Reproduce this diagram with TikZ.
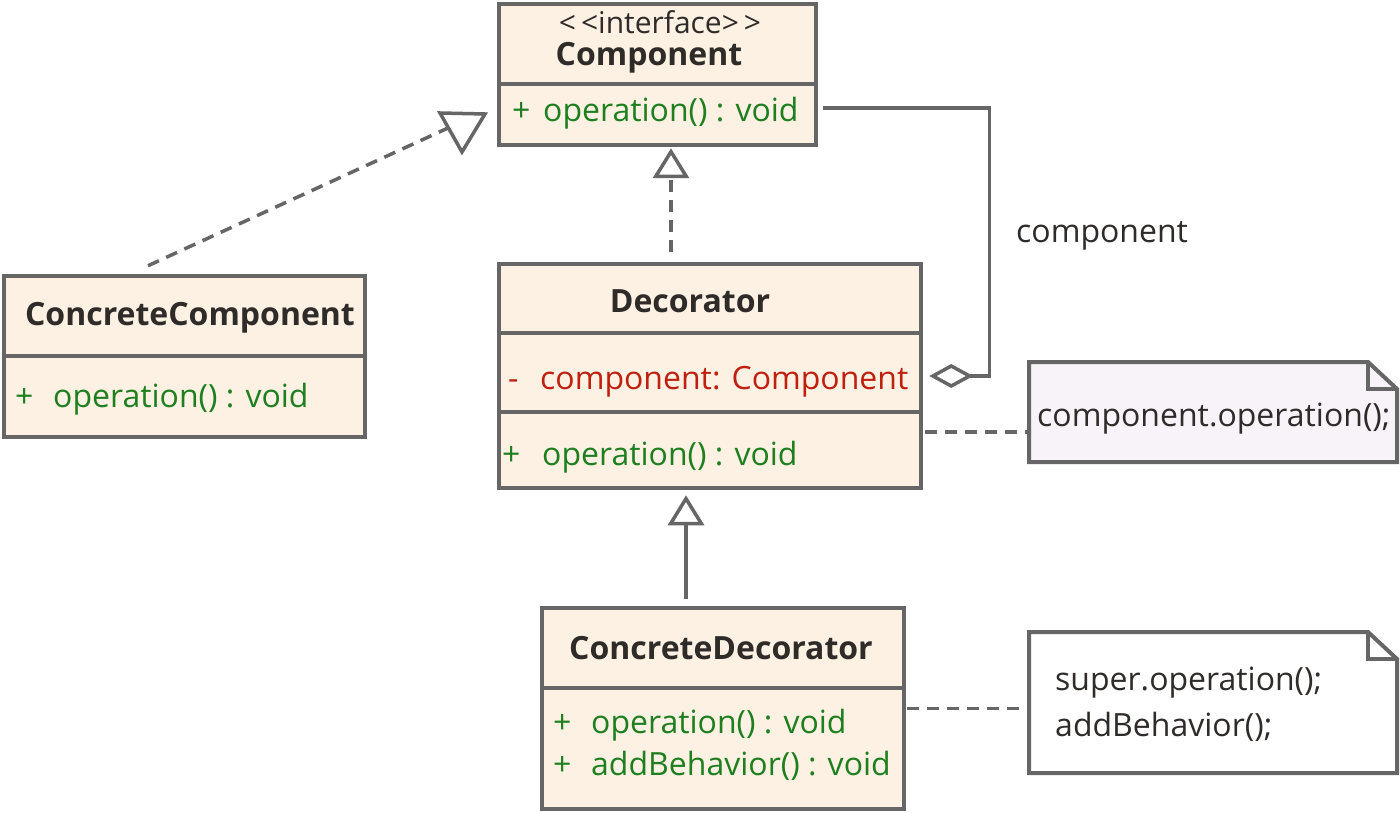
\documentclass[tikz,border=0pt]{standalone}
\usepackage{fontspec}
\setmainfont{Open Sans}
\usetikzlibrary{arrows.meta,calc}
\definecolor{bord}{HTML}{666666}
\definecolor{boxfill}{HTML}{FCF1E3}
\definecolor{notefill}{HTML}{F7F3F8}
\definecolor{grn}{HTML}{1F7F1F}
\definecolor{rd}{HTML}{C0200F}
\definecolor{txt}{HTML}{2F2B29}
\newcommand\regf{\fontsize{32}{38}\selectfont}
\newcommand\boldf{\fontsize{32}{38}\selectfont\bfseries}
\tikzset{
  umlbox/.style={draw=bord, line width=4.5pt, fill=boxfill, inner sep=0pt},
  divider/.style={draw=bord, line width=4.5pt},
  notebox/.style={inner sep=0pt, outer sep=0pt},
  noteline/.style={draw=bord, line width=4pt, line join=miter},
  conn/.style={draw=bord, line width=3.5pt},
  dconn/.style={conn, dash pattern=on 12pt off 8pt},
  realtip/.style={-{Triangle[open,length=30pt,width=36pt,line width=3.5pt]}},
  aggtip/.style={-{Diamond[open,length=44pt,width=24pt,line width=3.5pt]}},
  title/.style={anchor=base, font=\boldf, text=txt, inner sep=0pt},
  member/.style={anchor=base west, font=\regf, inner sep=0pt},
  plain/.style={anchor=base west, font=\regf, text=txt, inner sep=0pt}
}
\begin{document}
\begin{tikzpicture}[x=1pt,y=-1pt]
\useasboundingbox (0,0) rectangle (1400,813);

% ---------- class boxes ----------
\node[umlbox, minimum width=317pt, minimum height=141pt] (comp) at (657.5,74.5) {};
\draw[divider] (comp.west |- 0,84) -- (comp.east |- 0,84);
\node[anchor=base, font=\fontsize{30}{36}\selectfont, text=txt, inner sep=0pt] (compst) at (660,34) {<\,<interface>\,>};
\node[title] (comptl) at (649,66) {Component};
\node[member, text=grn] (compp) at (512,122) {+};
\node[member, text=grn] (compop) at (543,122) {operation() : void};

\node[umlbox, minimum width=361pt, minimum height=161pt] (cc) at (184.5,356.5) {};
\draw[divider] (cc.west |- 0,356) -- (cc.east |- 0,356);
\node[title] (cctl) at (190,325) {ConcreteComponent};
\node[member, text=grn] (ccp) at (15,407) {+};
\node[member, text=grn] (ccop) at (53,407) {operation() : void};

\node[umlbox, minimum width=422pt, minimum height=224pt] (dec) at (710,376) {};
\draw[divider] (dec.west |- 0,333) -- (dec.east |- 0,333);
\draw[divider] (dec.west |- 0,412) -- (dec.east |- 0,412);
\node[title] (dectl) at (690,312) {Decorator};
\node[member, text=rd] (decm) at (508,389) {-};
\node[member, text=rd] (decat) at (540,389) {component: Component};
\node[member, text=grn] (decp) at (502,465) {+};
\node[member, text=grn] (decop) at (542,465) {operation() : void};

\node[umlbox, minimum width=362pt, minimum height=201pt] (cd) at (723,708.5) {};
\draw[divider] (cd.west |- 0,688) -- (cd.east |- 0,688);
\node[title] (cdtl) at (721,659) {ConcreteDecorator};
\node[member, text=grn] (cdp1) at (553,733) {+};
\node[member, text=grn] (cdop1) at (591,733) {operation() : void};
\node[member, text=grn] (cdp2) at (553,775) {+};
\node[member, text=grn] (cdop2) at (591,775) {addBehavior() : void};

% ---------- notes ----------
\node[notebox, minimum width=368pt, minimum height=100pt] (n1) at (1213,412) {};
\draw[noteline, fill=notefill] (n1.north west) -- ([xshift=-29pt]n1.north east) -- ([shift={(0,27)}]n1.north east) -- (n1.south east) -- (n1.south west) -- cycle;
\draw[noteline] ([xshift=-29pt]n1.north east) -- ([shift={(-29,27)}]n1.north east) -- ([shift={(0,27)}]n1.north east);
\node[plain] (n1t) at (1037,426) {component.operation();};

\node[notebox, minimum width=368pt, minimum height=141pt] (n2) at (1213,702.5) {};
\draw[noteline, fill=white] (n2.north west) -- ([xshift=-29pt]n2.north east) -- ([shift={(0,27)}]n2.north east) -- (n2.south east) -- (n2.south west) -- cycle;
\draw[noteline] ([xshift=-29pt]n2.north east) -- ([shift={(-29,27)}]n2.north east) -- ([shift={(0,27)}]n2.north east);
\node[plain] (n2t1) at (1055,690) {super.operation();};
\node[plain] (n2t2) at (1055,736) {addBehavior();};

% ---------- connectors ----------
% ConcreteComponent realizes Component (dashed, downward open triangle)
\coordinate (tri) at (448,128);
\draw[dconn] ([shift={(-36.5,-8)}]cc.north) -- (tri);
\draw[conn, line join=miter] (440,113) -- (485,114) -- (462,152) -- cycle;

% Decorator realizes Component
\draw[dconn, realtip] ([shift={(-39,-10)}]dec.north) -- ([shift={(13.5,1)}]comp.south);

% ConcreteDecorator extends Decorator
\draw[conn, realtip] ([shift={(-37,-7)}]cd.north) -- ([shift={(-24,5)}]dec.south);

% aggregation
\draw[conn, aggtip] ([shift={(5,33.5)}]comp.east) -- ++(166,0) |- ([xshift=6pt]dec.east);
\node[plain] (agglbl) at (1016,243) {component};

% note anchors
\draw[dconn] ([shift={(2,56)}]dec.east) coordinate (d1) -- (d1 -| n1.west);
\draw[dconn] ([shift={(1,0)}]cd.east) coordinate (d2) -- (d2 -| n2.west);
\end{tikzpicture}
\end{document}
